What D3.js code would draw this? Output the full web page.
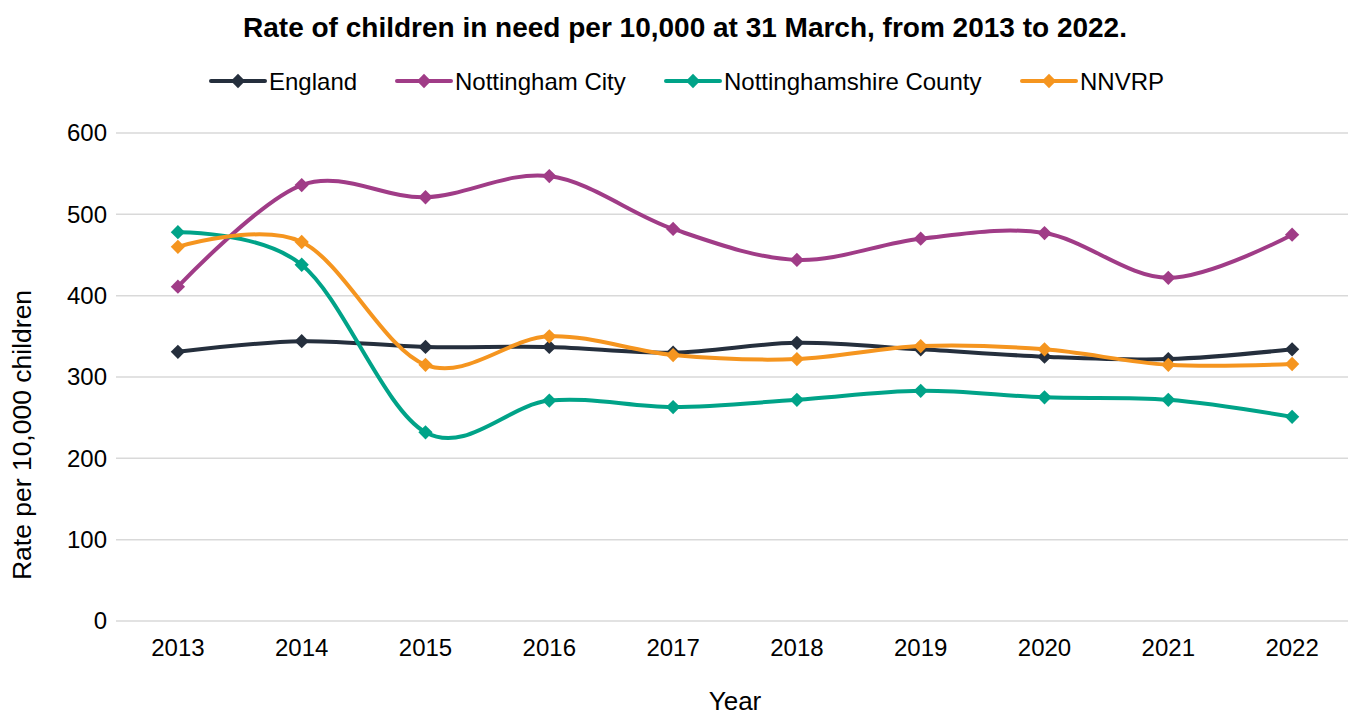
<!DOCTYPE html>
<html><head><meta charset="utf-8">
<script src="https://cdn.jsdelivr.net/npm/d3@7"></script>
<style>body{margin:0;background:#fff}svg{display:block}text{font-family:"Liberation Sans",Arial,sans-serif}</style>
</head><body><svg id="c" width="1348" height="716"></svg>
<script>
const years = ["2013","2014","2015","2016","2017","2018","2019","2020","2021","2022"];
const seriesNames = ["England","Nottingham City","Nottinghamshire County","NNVRP"];
const england = [331,344,337,337,330,342,334,325,322,334];
const nottinghamCity = [411,536,521,547,482,444,470,477,422,475];
const nottsCounty = [478,438,232,271,263,272,283,275,272,251];
const nnvrp = [460,466,315,350,327,322,338,334,315,316];
const yTicks = [0,100,200,300,400,500,600];
const colors = ["#252f3d","#a03c87","#00a388","#f5951f"];

const data = [england, nottinghamCity, nottsCounty, nnvrp];
const svg = d3.select("#c");
const pLeft = 116, pRight = 1354, pTop = 133, pBottom = 621;
const x = d3.scaleBand().domain(years).range([pLeft, pRight]);
const y = d3.scaleLinear().domain([0,600]).range([pBottom, pTop]);

// gridlines
svg.append("g").selectAll("line").data(yTicks).join("line")
  .attr("x1", pLeft).attr("x2", 1348).attr("y1", d=>y(d)).attr("y2", d=>y(d))
  .attr("stroke","#d9d9d9").attr("stroke-width",1.5);

// y axis labels
const yAx = svg.append("g").attr("transform",`translate(${pLeft-9},0)`)
  .call(d3.axisLeft(y).tickValues(yTicks).tickSize(0).tickPadding(0).tickFormat(d3.format("d")));
yAx.select(".domain").remove();
yAx.selectAll("text").attr("font-size",24).attr("fill","#000").attr("font-family","Liberation Sans, Arial, sans-serif");

// x axis labels
const xAx = svg.append("g").attr("transform",`translate(0,${pBottom})`)
  .call(d3.axisBottom(x).tickSize(0).tickPadding(18));
xAx.select(".domain").remove();
xAx.selectAll("text").attr("font-size",24).attr("fill","#000").attr("font-family","Liberation Sans, Arial, sans-serif");

const line = d3.line().x((d,i)=>x(years[i])+x.bandwidth()/2).y(d=>y(d)).curve(d3.curveCardinal.tension(0));
const diamond = d3.symbol().type(d3.symbolDiamond2).size(130);

data.forEach((s,k)=>{
  svg.append("path").datum(s).attr("d", line).attr("fill","none")
    .attr("stroke", colors[k]).attr("stroke-width",4).attr("stroke-linecap","round");
  svg.append("g").selectAll("path").data(s).join("path")
    .attr("d", diamond)
    .attr("transform",(d,i)=>`translate(${x(years[i])+x.bandwidth()/2},${y(d)})`)
    .attr("fill", colors[k]);
});

// title
svg.append("text").attr("x",685).attr("y",37).attr("text-anchor","middle")
  .attr("font-size",28).attr("font-weight","bold").text("Rate of children in need per 10,000 at 31 March, from 2013 to 2022.");

// legend
const legX = [211,397,666,1022];
const lg = svg.append("g");
seriesNames.forEach((n,k)=>{
  const g = lg.append("g").attr("transform",`translate(${legX[k]},81)`);
  g.append("line").attr("x1",0).attr("x2",54).attr("stroke",colors[k]).attr("stroke-width",4).attr("stroke-linecap","round");
  g.append("path").attr("d",diamond).attr("transform","translate(27,0)").attr("fill",colors[k]);
  g.append("text").attr("x",58).attr("y",8.5).attr("font-size",24).text(n);
});

// axis titles
svg.append("text").attr("transform","translate(31,435) rotate(-90)").attr("text-anchor","middle")
  .attr("font-size",26.5).text("Rate per 10,000 children");
svg.append("text").attr("x",735).attr("y",710).attr("text-anchor","middle")
  .attr("font-size",26).text("Year");
</script></body></html>
